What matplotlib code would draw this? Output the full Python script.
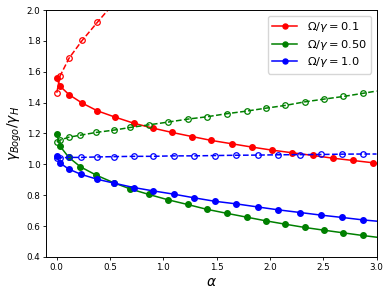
import matplotlib
matplotlib.use("Agg")
import matplotlib.pyplot as plt

# Red: Omega/gamma = 0.1
red_x = [0.0, 0.03, 0.116, 0.238, 0.38, 0.547, 0.72, 0.9, 1.08, 1.27, 1.45, 1.645, 1.83, 2.02, 2.21, 2.40, 2.59, 2.78, 2.97, 3.0]
red_solid = [1.557, 1.507, 1.451, 1.397, 1.347, 1.306, 1.267, 1.235, 1.207, 1.180, 1.155, 1.133, 1.112, 1.092, 1.075, 1.058, 1.040, 1.025, 1.010, 1.006]
red_dash_x = [0.0, 0.03, 0.116, 0.238, 0.38, 0.547, 0.72]
red_dash = [1.464, 1.572, 1.689, 1.803, 1.920, 2.054, 2.19]

# Green: Omega/gamma = 0.50
green_x = [0.0, 0.03, 0.113, 0.222, 0.37, 0.537, 0.688, 0.864, 1.045, 1.227, 1.405, 1.593, 1.78, 1.962, 2.145, 2.327, 2.51, 2.69, 2.87, 3.0]
green_solid = [1.196, 1.118, 1.045, 0.984, 0.930, 0.880, 0.841, 0.805, 0.770, 0.740, 0.709, 0.683, 0.658, 0.634, 0.612, 0.591, 0.573, 0.556, 0.539, 0.528]
green_dash = [1.144, 1.157, 1.176, 1.189, 1.207, 1.222, 1.239, 1.256, 1.274, 1.293, 1.308, 1.328, 1.345, 1.364, 1.382, 1.405, 1.423, 1.440, 1.460, 1.475]

# Blue: Omega/gamma = 1.0
blue_x = [0.0, 0.027, 0.113, 0.225, 0.376, 0.538, 0.72, 0.905, 1.096, 1.29, 1.48, 1.683, 1.884, 2.08, 2.282, 2.479, 2.676, 2.873, 3.0]
blue_solid = [1.055, 1.010, 0.969, 0.936, 0.904, 0.878, 0.850, 0.828, 0.807, 0.783, 0.761, 0.744, 0.724, 0.705, 0.688, 0.671, 0.656, 0.640, 0.632]
blue_dash = [1.040, 1.042, 1.045, 1.045, 1.048, 1.050, 1.052, 1.052, 1.055, 1.055, 1.057, 1.059, 1.060, 1.062, 1.063, 1.064, 1.066, 1.067, 1.067]

labels = [r"$\Omega/\gamma = 0.1$", r"$\Omega/\gamma = 0.50$", r"$\Omega/\gamma = 1.0$"]

fig, ax = plt.subplots(figsize=(3.91, 2.95), dpi=100)
ms = 4.0
lw = 1.1

def me(n):
    return list(range(n - 1))

ax.plot(red_x, red_solid, '-o', color='red', ms=ms, lw=lw, markevery=me(len(red_x)), label=labels[0])
ax.plot(red_dash_x, red_dash, '--o', color='red', ms=ms, lw=lw, mfc='none', mew=0.9)
ax.plot(green_x, green_solid, '-o', color='green', ms=ms, lw=lw, markevery=me(len(green_x)), label=labels[1])
ax.plot(green_x, green_dash, '--o', color='green', ms=ms, lw=lw, mfc='none', mew=0.9, markevery=me(len(green_x)))
ax.plot(blue_x, blue_solid, '-o', color='blue', ms=ms, lw=lw, markevery=me(len(blue_x)), label=labels[2])
ax.plot(blue_x, blue_dash, '--o', color='blue', ms=ms, lw=lw, mfc='none', mew=0.9, markevery=me(len(blue_x)))

ax.set_xlim(-0.1, 3.0)
ax.set_ylim(0.4, 2.0)
ax.set_xlabel(r"$\alpha$", fontsize=10, labelpad=2)
ax.set_ylabel(r"$\gamma_{Bogo}/\gamma_H$", fontsize=10, labelpad=2)
ax.tick_params(labelsize=6.3, length=2.2, width=0.6, pad=2)
for s in ax.spines.values():
    s.set_linewidth(0.7)
ax.legend(loc='upper right', fontsize=8.2, labelspacing=0.3, handlelength=2.2,
          borderpad=0.4, handletextpad=0.8, markerscale=0.9)
fig.subplots_adjust(left=0.118, right=0.963, top=0.966, bottom=0.129)
fig.savefig("out.png", dpi=100)
